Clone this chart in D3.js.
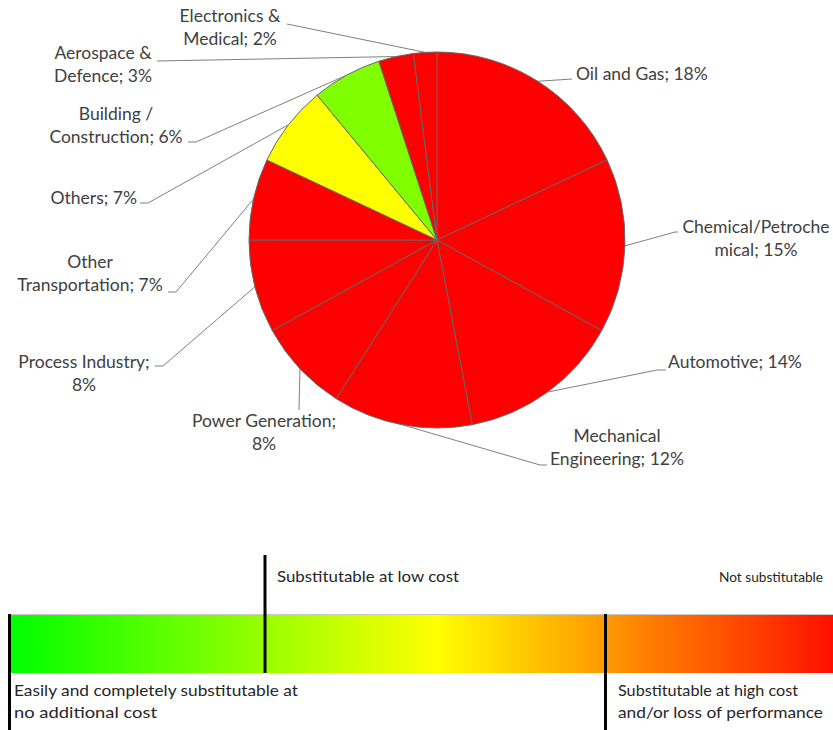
<!DOCTYPE html>
<html>
<head>
<meta charset="utf-8">
<script src="https://cdn.jsdelivr.net/npm/d3@7"></script>
<style>
  html, body { margin: 0; padding: 0; background: #fff; overflow: hidden; }
  svg { display: block; }
</style>
</head>
<body>
<svg id="chart" width="833" height="730"></svg>
<script>
// ---- data ----
const categories = ["Oil and Gas", "Chemical/Petrochemical", "Automotive", "Mechanical Engineering",
  "Power Generation", "Process Industry", "Other Transportation", "Others",
  "Building / Construction", "Aerospace & Defence", "Electronics & Medical"];
const values = [18, 15, 14, 12, 8, 8, 7, 7, 6, 3, 2];
const sliceColors = ["#ff0000", "#ff0000", "#ff0000", "#ff0000", "#ff0000", "#ff0000", "#ff0000",
  "#ffff00", "#80ff00", "#ff0000", "#ff0000"];
const labelLines = [
  ["Oil and Gas; 18%"],
  ["Chemical/Petroche", "mical; 15%"],
  ["Automotive; 14%"],
  ["Mechanical", "Engineering; 12%"],
  ["Power Generation;", "8%"],
  ["Process Industry;", "8%"],
  ["Other", "Transportation; 7%"],
  ["Others; 7%"],
  ["Building /", "Construction; 6%"],
  ["Aerospace &", "Defence; 3%"],
  ["Electronics &", "Medical; 2%"]
];
const scaleLabels = ["Substitutable at low cost", "Not substitutable",
  "Easily and completely substitutable at", "no additional cost",
  "Substitutable at high cost", "and/or loss of performance"];

// ---- layout (positions only) ----
const labelLayout = [
  {x: 576, y: 80,  anchor: "start",  lead: [[572, 79]]},
  {x: 756, y: 233, anchor: "middle", lead: [[678, 232], [675, 232]]},
  {x: 668, y: 368, anchor: "start",  lead: [[666, 370], [657, 370]]},
  {x: 617, y: 442, anchor: "middle", lead: [[547, 465], [540, 465]]},
  {x: 264, y: 427, anchor: "middle", lead: [[299, 410]]},
  {x: 84,  y: 368, anchor: "middle", lead: [[155, 366], [163, 366]]},
  {x: 90,  y: 268, anchor: "middle", lead: [[168, 292], [176, 292]]},
  {x: 137, y: 204, anchor: "end",    lead: [[140, 203], [148, 203]]},
  {x: 116, y: 120, anchor: "middle", lead: [[188, 142], [196, 142]]},
  {x: 103, y: 59,  anchor: "middle", lead: [[157, 61]]},
  {x: 230, y: 22,  anchor: "middle", lead: [[287, 24]]}
];

const svg = d3.select("#chart");
const cx = 437, cy = 240, R = 188;
const lineH = 23;

const pie = d3.pie().sort(null).value(d => d)(values);
const arc = d3.arc().innerRadius(0).outerRadius(R);

const g = svg.append("g").attr("transform", `translate(${cx},${cy})`);
g.selectAll("path.slice").data(pie).join("path")
  .attr("class", "slice")
  .attr("d", arc)
  .attr("fill", (d, i) => sliceColors[i])
  .attr("stroke", "#666666")
  .attr("stroke-width", 1);

// leader lines
const line = d3.line();
svg.selectAll("path.leader").data(pie).join("path")
  .attr("class", "leader")
  .attr("d", (d, i) => {
    const mid = (d.startAngle + d.endAngle) / 2;
    const px = cx + R * Math.sin(mid), py = cy - R * Math.cos(mid);
    return line([...labelLayout[i].lead, [px, py]]);
  })
  .attr("fill", "none")
  .attr("stroke", "#7f7f7f")
  .attr("stroke-width", 1);

// labels
const labels = svg.selectAll("text.lbl").data(labelLines).join("text")
  .attr("class", "lbl")
  .attr("x", (d, i) => labelLayout[i].x)
  .attr("y", (d, i) => labelLayout[i].y)
  .attr("text-anchor", (d, i) => labelLayout[i].anchor)
  .attr("font-family", "Lato, 'Open Sans', sans-serif")
  .attr("font-size", "17.5px")
  .attr("fill", "#404040");
labels.each(function(d, i) {
  d3.select(this).selectAll("tspan").data(d).join("tspan")
    .attr("x", labelLayout[i].x)
    .attr("dy", (t, j) => j === 0 ? 0 : lineH)
    .text(t => t);
});

// ---- substitutability scale ----
const defs = svg.append("defs");
const barX0 = 10, barX1 = 860, barY = 614, barH = 59;
const grad = defs.append("linearGradient").attr("id", "subst")
  .attr("gradientUnits", "userSpaceOnUse")
  .attr("x1", barX0).attr("x2", barX1).attr("y1", 0).attr("y2", 0);
grad.append("stop").attr("offset", "0%").attr("stop-color", "#00ff00");
grad.append("stop").attr("offset", "50%").attr("stop-color", "#ffff00");
grad.append("stop").attr("offset", "100%").attr("stop-color", "#ff0000");

svg.append("rect").attr("x", barX0).attr("y", barY).attr("width", barX1 - barX0).attr("height", barH)
  .attr("fill", "url(#subst)");
svg.append("line").attr("x1", barX0).attr("x2", 833).attr("y1", barY + 0.5).attr("y2", barY + 0.5)
  .attr("stroke", "#c8c8c8").attr("stroke-width", 1);

const markers = [
  {x: 9.5, y1: 614, y2: 730},
  {x: 265, y1: 555, y2: 673},
  {x: 605.5, y1: 614, y2: 730}
];
svg.selectAll("line.mark").data(markers).join("line")
  .attr("class", "mark")
  .attr("x1", d => d.x).attr("x2", d => d.x)
  .attr("y1", d => d.y1).attr("y2", d => d.y2)
  .attr("stroke", "#000").attr("stroke-width", 3);

const scaleLayout = [
  {x: 277, y: 582, w: 182, fs: 15},
  {x: 719, y: 582, w: 104, fs: 13.5},
  {x: 14, y: 696, w: 284, fs: 15},
  {x: 14, y: 718, w: 143, fs: 15},
  {x: 618, y: 696, w: 180, fs: 15},
  {x: 618, y: 718, w: 205, fs: 15}
];
svg.selectAll("text.scale").data(scaleLabels).join("text")
  .attr("class", "scale")
  .attr("x", (d, i) => scaleLayout[i].x)
  .attr("y", (d, i) => scaleLayout[i].y)
  .attr("textLength", (d, i) => scaleLayout[i].w)
  .attr("lengthAdjust", "spacingAndGlyphs")
  .attr("font-family", "Lato, 'Open Sans', sans-serif")
  .attr("font-size", (d, i) => scaleLayout[i].fs + "px")
  .attr("fill", "#262626")
  .text(d => d);
</script>
</body>
</html>
